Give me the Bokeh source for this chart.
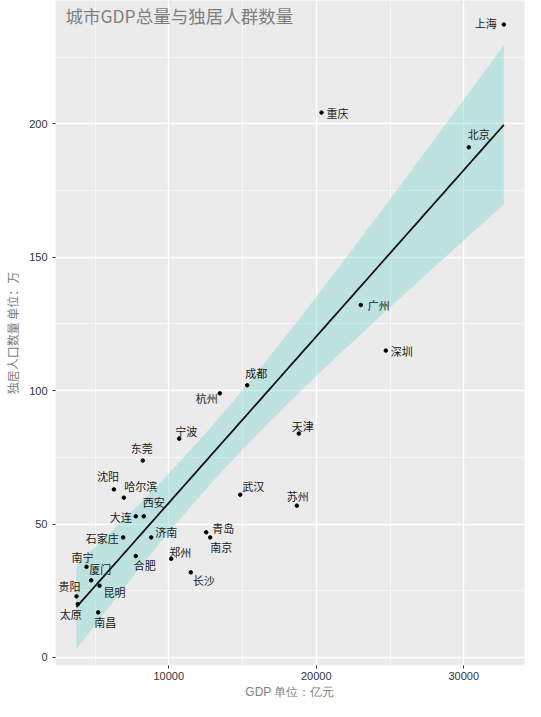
import numpy as np
from bokeh.plotting import figure
from bokeh.models import Range1d, FixedTicker, Label, ColumnDataSource
from bokeh.core.properties import value
from bokeh.embed import file_html
from bokeh.resources import INLINE

# ---- data ----
cities = ["上海", "重庆", "北京", "广州", "深圳", "成都", "杭州", "天津", "宁波", "东莞",
          "武汉", "苏州", "沈阳", "哈尔滨", "大连", "西安", "石家庄", "济南", "青岛", "南京",
          "郑州", "长沙", "合肥", "南宁", "厦门", "昆明", "贵阳", "太原", "南昌"]
gdp = [32712, 20353, 30339, 23017, 24712, 15315, 13458, 18814, 10705, 8237,
       14841, 18678, 6278, 6949, 7763, 8305, 6908, 8807, 12536, 12807,
       10163, 11492, 7763, 4420, 4739, 5302, 3742, 3831, 5214]
single_pop = [237.2, 204.2, 191.2, 132.1, 115.0, 102.0, 99.0, 83.9, 82.0, 73.8,
              61.0, 56.9, 63.0, 59.9, 52.9, 52.9, 45.0, 45.0, 46.9, 45.0,
              37.0, 31.9, 38.0, 34.0, 28.9, 26.9, 22.9, 20.0, 16.9]
x_ticks = [10000, 20000, 30000]
x_minor = [5000, 15000, 25000]
y_ticks = [0, 50, 100, 150, 200]
y_minor = [25, 75, 125, 175, 225]

# label offsets in screen pixels (dx right, dy down)
lab_dx = [-18, 16, 10, 18, 16, 9, -13, 4, 7, -1,
          13, 1, -6, 17, -15, 10, -21, 15, 17, 11,
          9, 13, 9, -4, 9, 15, -7, -7, 7]
lab_dy = [-2, 0, -13, 0, 0, -12, 5, -8, -8, -13,
          -9, -10, -13, -12, 1, -14, 1, -5, -4, 10,
          -7, 8, 9, -10, -11, 6, -10, 10, 10]

# ---- linear fit with 95% confidence band ----
xa = np.array(gdp, dtype=float)
ya = np.array(single_pop, dtype=float)
n = len(xa)
b1, b0 = np.polyfit(xa, ya, 1)
resid = ya - (b0 + b1 * xa)
s = np.sqrt(np.sum(resid ** 2) / (n - 2))
sxx = np.sum((xa - xa.mean()) ** 2)
xs = np.linspace(xa.min(), xa.max(), 80)
yhat = b0 + b1 * xs
se = s * np.sqrt(1.0 / n + (xs - xa.mean()) ** 2 / sxx)
tval = 2.0518
lower = yhat - tval * se
upper = yhat + tval * se

CJK = "Noto Sans CJK SC"
X0, X1 = 2319, 34115
Y0, Y1 = -3.0, 246.2

p = figure(width=525, height=701, output_backend="svg", toolbar_location=None,
           x_range=Range1d(X0, X1), y_range=Range1d(Y0, Y1),
           min_border_left=55, min_border_right=1, min_border_top=0, min_border_bottom=33)
p.background_fill_color = "#EBEBEB"
p.border_fill_color = "white"
p.outline_line_color = None

p.xaxis.ticker = FixedTicker(ticks=x_ticks, minor_ticks=x_minor)
p.yaxis.ticker = FixedTicker(ticks=y_ticks, minor_ticks=y_minor)
for g in (p.xgrid, p.ygrid):
    g.grid_line_color = "white"
    g.grid_line_width = 1.3
    g.minor_grid_line_color = "white"
    g.minor_grid_line_width = 0.6
for ax in (p.xaxis, p.yaxis):
    ax.axis_line_color = None
    ax.major_tick_in = 0
    ax.major_tick_out = 3
    ax.major_tick_line_color = "#333333"
    ax.minor_tick_line_color = None
    ax.major_label_text_font = "Liberation Sans"
    ax.major_label_text_font_size = "11px"
    ax.major_label_text_color = "#333333"
    ax.axis_label_text_font_size = "12px"
    ax.axis_label_text_font_style = "normal"
    ax.axis_label_text_color = "#808080"
p.xaxis.major_label_standoff = 2
p.yaxis.major_label_standoff = 4
p.yaxis.axis_label = "独居人口数量 单位：万"
p.yaxis.axis_label_text_font = CJK
p.yaxis.axis_label_standoff = 5
p.xaxis.axis_label = "GDP 单位：亿元"
p.xaxis.axis_label_text_font = "Liberation Sans"
p.xaxis.axis_label_standoff = 2

p.varea(x=xs, y1=lower, y2=upper, fill_color="#7AD4CD", fill_alpha=0.4)
p.line(x=xs, y=yhat, line_color="#141414", line_width=1.8)

src = ColumnDataSource(dict(x=gdp, y=single_pop, name=cities, dx=lab_dx, dy=lab_dy))
p.scatter(x="x", y="y", source=src, size=3.5, color="black")
p.text(x="x", y="y", text="name", source=src, x_offset="dx", y_offset="dy",
       text_align="center", text_baseline="middle", text_font=value(CJK),
       text_font_size="11px", text_color="#1a1a1a")

title = Label(x=X0, y=Y1, x_offset=10, y_offset=-2, text="城市GDP总量与独居人群数量",
              text_font=CJK, text_font_size="17.5px", text_color="#7f7f7f",
              text_baseline="top", text_align="left")
p.add_layout(title)

open("out.html", "w").write(file_html(p, INLINE))
